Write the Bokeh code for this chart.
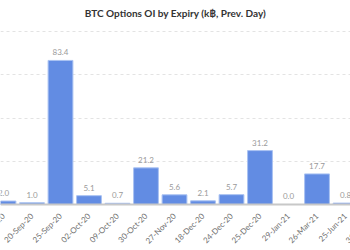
import math
from bokeh.plotting import figure
from bokeh.models import Range1d, FixedTicker, ColumnDataSource, Span, Label
from bokeh.core.properties import value
from bokeh.embed import file_html
from bokeh.resources import INLINE

expiries = ["19-Sep-20", "20-Sep-20", "25-Sep-20", "02-Oct-20", "09-Oct-20",
            "30-Oct-20", "27-Nov-20", "18-Dec-20", "24-Dec-20", "25-Dec-20",
            "29-Jan-21", "26-Mar-21", "25-Jun-21", "31-Dec-21"]
open_interest = [2.0, 1.0, 83.4, 5.1, 0.7, 21.2, 5.6, 2.1, 5.7, 31.2, 0.0, 17.7, 0.8]
grid_values = [0, 25, 50, 75, 100]
title_text = "BTC Options OI by Expiry (k\u0e3f, Prev. Day)"

idx = list(range(len(open_interest)))
src = ColumnDataSource(dict(x=idx, top=open_interest,
                            lbl=["%.1f" % v for v in open_interest]))
cat_src = ColumnDataSource(dict(x=list(range(len(expiries))),
                                y=[0] * len(expiries), lbl=expiries))

p = figure(width=350, height=250, output_backend="svg", toolbar_location=None,
           x_range=Range1d(-0.105, 12.175), y_range=Range1d(-26.64, 118.1),
           min_border=0)

p.vbar(x="x", top="top", width=0.87, source=src, fill_color="#628ce3",
       line_color="#a9c2f2", line_width=1)
p.text(x="x", y="top", text="lbl", source=src, text_align="center",
       text_baseline="bottom", y_offset=-5, text_font=value("Lato"),
       text_font_size="8px", text_color="#9a9a9a")
p.text(x="x", y="y", text="lbl", source=cat_src, angle=math.pi / 4,
       text_align="right", text_baseline="middle", y_offset=10,
       text_font=value("Lato"), text_font_size="8px", text_color="#707070")

p.add_layout(Span(location=0, dimension="width", line_color="#c8c8c8",
                  line_width=2))
p.add_layout(Label(x=175, y=238, x_units="screen", y_units="screen",
                   text=title_text, text_align="center", text_baseline="middle",
                   text_font="Lato", text_font_size="10px",
                   text_font_style="bold", text_color="#333333"))

p.outline_line_color = None
p.xgrid.grid_line_color = None
p.ygrid.ticker = FixedTicker(ticks=grid_values)
p.ygrid.grid_line_color = "#e3e3e3"
p.ygrid.grid_line_dash = "3 3"
p.xaxis.visible = False
p.yaxis.visible = False

open("out.html", "w").write(file_html(p, INLINE))
